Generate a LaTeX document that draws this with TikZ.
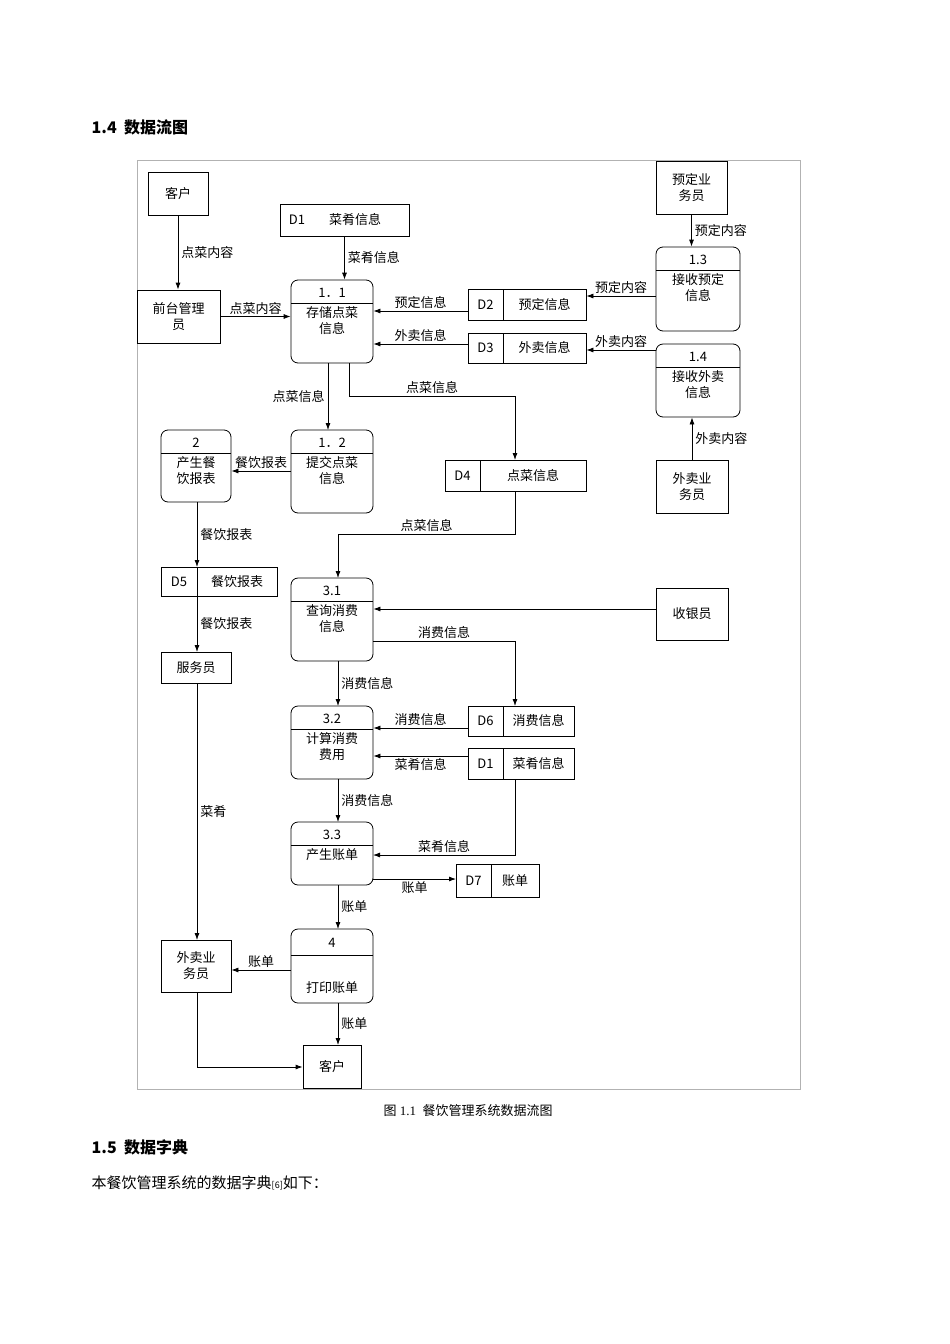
\documentclass[tikz,border=0pt]{standalone}
\usepackage{fontspec}
\setmainfont{Liberation Serif}
\newfontfamily\cjk{Noto Sans CJK SC}
\usetikzlibrary{arrows.meta}
\newcommand\mkproc[8]{% name x1 y1 x2 y2 divy num text
  \node[draw,rounded corners=7pt,minimum width=#4pt-#2pt,minimum height=#5pt-#3pt,inner sep=0pt] (#1) at ({(#2+#4)/2},{(#3+#5)/2}) {};
  \draw (#2,#6) -- (#4,#6);
  \node[lbl] (#1n) at ({(#2+#4)/2},{(#3+#6)/2+1}) {#7};
  \node[lbl,align=center,anchor=north] (#1t) at ({(#2+#4)/2},{#6+2}) {#8};
}
\newcommand\mkbox[6]{% name x1 y1 x2 y2 text
  \node[draw,minimum width=#4pt-#2pt,minimum height=#5pt-#3pt,inner sep=0pt,align=center,lbl] (#1) at ({(#2+#4)/2},{(#3+#5)/2}) {#6};
}
\newcommand\mkstore[8]{% name x1 y1 x2 y2 divx id text
  \node[draw,minimum width=#4pt-#2pt,minimum height=#5pt-#3pt,inner sep=0pt] (#1) at ({(#2+#4)/2},{(#3+#5)/2}) {};
  \draw (#6,#3) -- (#6,#5);
  \node[lbl] (#1i) at ({(#2+#6)/2},{(#3+#5)/2}) {#7};
  \node[lbl] (#1t) at ({(#6+#4)/2},{(#3+#5)/2}) {#8};
}
\begin{document}
\begin{tikzpicture}[x=1pt,y=-1pt,
  lbl/.style={font=\cjk\fontsize{13}{16}\selectfont,inner sep=1pt},
  ar/.style={-{Latex[length=7pt,width=5pt]},line width=0.8pt},
  every path/.style={line width=0.8pt}]
\useasboundingbox[fill=white] (0,0) rectangle (950,1344);
\node[anchor=west,font=\cjk\bfseries\fontsize{16}{18}\selectfont] (h1) at (88,127) {1.4\ \ 数据流图};
\draw[gray!60,line width=0.6pt] (137,160) rectangle (800,1089);

\mkbox{kh}{148}{172}{208}{215}{客户}
\mkbox{qt}{137}{290}{220}{343}{前台管理\\员}
\node[draw,minimum width=129pt,minimum height=32pt,inner sep=0pt] (d1a) at (344.5,220) {};
\node[lbl] (d1ai) at (297,220) {D1};
\node[lbl] (d1at) at (355,220) {菜肴信息};
\mkproc{p11}{291}{280}{373}{363}{303}{1．1}{存储点菜\\信息}
\mkstore{d2}{468}{289}{586}{320}{503}{D2}{预定信息}
\mkstore{d3}{468}{333}{586}{363}{503}{D3}{外卖信息}
\mkbox{yd}{656}{161}{727}{214}{预定业\\务员}
\mkproc{p13}{656}{247}{740}{331}{270}{1.3}{接收预定\\信息}
\mkproc{p14}{656}{344}{740}{417}{367}{1.4}{接收外卖\\信息}
\mkbox{wm}{656}{460}{728}{513}{外卖业\\务员}
\mkproc{p12}{291}{430}{373}{513}{453}{1．2}{提交点菜\\信息}
\mkproc{p2}{161}{430}{231}{502}{453}{2}{产生餐\\饮报表}
\mkstore{d4}{445}{460}{586}{491}{480}{D4}{点菜信息}
\mkstore{d5}{161}{567}{277}{596}{197}{D5}{餐饮报表}
\mkbox{fwy}{161}{652}{231}{683}{服务员}
\mkproc{p31}{291}{578}{373}{661}{601}{3.1}{查询消费\\信息}
\mkbox{syy}{656}{588}{728}{640}{收银员}
\mkstore{d6}{468}{706}{574}{736}{503}{D6}{消费信息}
\mkstore{d1b}{468}{748}{574}{779}{503}{D1}{菜肴信息}
\mkproc{p32}{291}{706}{373}{779}{729}{3.2}{计算消费\\费用}
\mkproc{p33}{291}{822}{373}{885}{845}{3.3}{产生账单}
\mkstore{d7}{456}{864}{539}{897}{491}{D7}{账单}
\mkproc{p4}{291}{929}{373}{1003}{955}{4}{}
\node[lbl] (p4x) at (332,988) {打印账单};
\mkbox{wm2}{161}{940}{231}{992}{外卖业\\务员}
\mkbox{kh2}{303}{1045}{361}{1088}{客户}

\draw[ar] (kh) -- node[lbl,right=2pt] {点菜内容} (kh|-qt.north);
\draw[ar] (d1a) -- node[lbl,right=2pt] {菜肴信息} (d1a|-p11.north);
\draw[ar] (qt) -- node[lbl,above=1pt] {点菜内容} (qt-|p11.west);
\draw[ar] (d2.west|-0,311) -- node[lbl,above=1pt] {预定信息} (p11.east|-0,311);
\draw[ar] (d3.west|-0,344) -- node[lbl,above=1pt] {外卖信息} (p11.east|-0,344);
\draw[ar] (yd) -- node[lbl,right=2pt] {预定内容} (yd|-p13.north);
\draw[ar] (p13.west|-0,296) -- node[lbl,above=1pt] {预定内容} (d2.east|-0,296);
\draw[ar] (p14.west|-0,350) -- node[lbl,above=1pt] {外卖内容} (d3.east|-0,350);
\draw[ar] (wm) -- node[lbl,right=2pt] {外卖内容} (wm|-p14.south);
\draw[ar] (328,363) -- node[lbl,left=2pt] {点菜信息} (328,430);
\coordinate (c1) at (349,396);
\draw[ar] (c1|-p11.south) -- (c1) -- node[lbl,above=1pt,pos=0.5] {点菜信息} (515,396) -- (515,460);
\draw[ar] (p12.west|-0,471) -- node[lbl,above=1pt] {餐饮报表} (p2.east|-0,471);
\draw[ar] (515,491) -- (515,534) -- node[lbl,above=1pt] {点菜信息} (338,534) -- (338,578);
\draw[ar] (197,502) -- node[lbl,right=2pt] {餐饮报表} (197,567);
\draw[ar] (197,596) -- node[lbl,right=2pt] {餐饮报表} (197,652);
\draw[ar] (197,683) -- node[lbl,right=2pt] {菜肴} (197,940);
\draw[ar] (syy.west|-0,609) -- (p31.east|-0,609);
\draw[ar] (373,641) -- node[lbl,above=1pt] {消费信息} (515,641) -- (515,706);
\draw[ar] (338,661) -- node[lbl,right=2pt] {消费信息} (338,706);
\draw[ar] (d6.west|-0,728) -- node[lbl,above=1pt] {消费信息} (p32.east|-0,728);
\draw[ar] (d1b.west|-0,756) -- node[lbl,below=1pt] {菜肴信息} (p32.east|-0,756);
\draw[ar] (338,779) -- node[lbl,right=2pt] {消费信息} (338,822);
\draw[ar] (515,779) -- (515,855) -- node[lbl,above=1pt] {菜肴信息} (373,855);
\draw[ar] (373,879) -- node[lbl,below=1pt] {账单} (456,879);
\draw[ar] (338,885) -- node[lbl,right=2pt] {账单} (338,929);
\draw[ar] (p4.west|-0,970) -- node[lbl,above=1pt] {账单} (wm2.east|-0,970);
\draw[ar] (338,1003) -- node[lbl,right=2pt] {账单} (338,1045);
\draw[ar] (197,992) -- (197,1067) -- (kh2.west|-0,1067);

\node[font=\fontsize{13}{16}\selectfont] (cap) at (468,1111) {{\cjk 图} 1.1\ \ {\cjk 餐饮管理系统数据流图}};
\node[anchor=west,font=\cjk\bfseries\fontsize{16}{18}\selectfont] (h2) at (88,1147) {1.5\ \ 数据字典};
\node[anchor=west,font=\cjk\fontsize{15}{18}\selectfont] (p) at (88,1183) {本餐饮管理系统的数据字典{\fontsize{9}{10}\selectfont[6]}如下：};
\end{tikzpicture}
\end{document}
